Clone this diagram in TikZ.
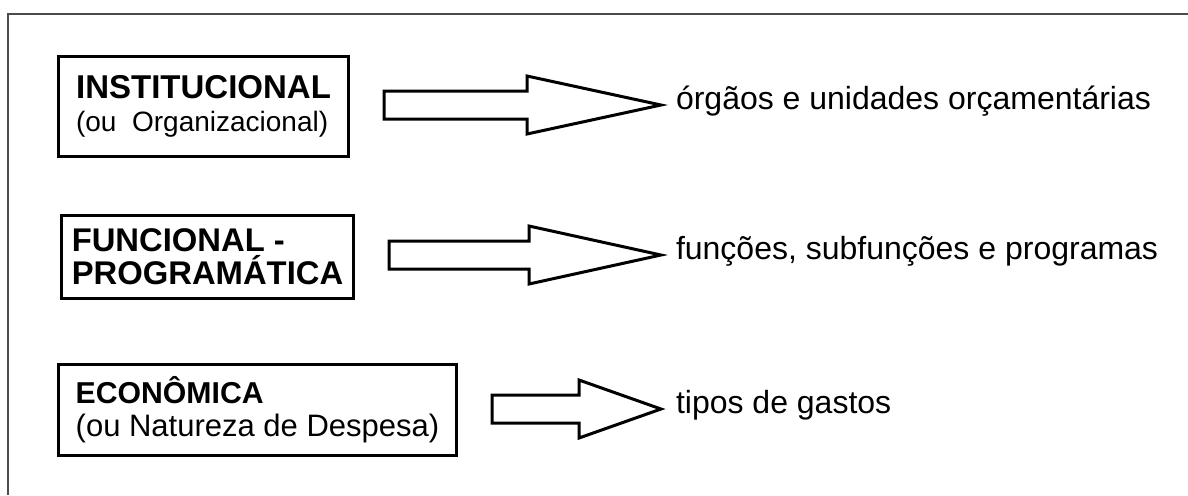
\documentclass[tikz,border=0pt]{standalone}
\usepackage{fontspec}
\setmainfont{Liberation Sans}
\usetikzlibrary{positioning,calc}

\begin{document}
\begin{tikzpicture}[x=0.5pt, y=-0.5pt,
    font=\fontsize{16}{16.5}\selectfont,
    catbox/.style={draw, rectangle, line width=1.5pt, align=left, inner sep=0pt, outer sep=0.75pt},
    lbl/.style={anchor=west, inner xsep=7.5pt, inner ysep=0pt, outer sep=0pt, text height=0.7em, text depth=0.3em},
    blockarrow/.style={draw, line width=1.5pt}]
  \useasboundingbox (0,0) rectangle (1188,495);
  \draw[line width=1pt, black!70] (1188,14) -- (8,14) -- (8,495);

  \node (inst) [catbox, minimum width=145pt, minimum height=50pt] at (203.5,106.5)
    {\fontsize{16.5}{16.5}\selectfont\bfseries INSTITUCIONAL\\
     \fontsize{14}{16.5}\selectfont\mdseries (ou\ \ Organizacional)};
  \node (prog) [catbox, minimum width=146pt, minimum height=41.5pt, below=28pt of inst.south west, anchor=north west, xshift=1.5pt]
    {\fontsize{16.4}{16}\selectfont\bfseries FUNCIONAL -\\\fontsize{16.4}{16}\selectfont\bfseries PROGRAMÁTICA};
  \node (econ) [catbox, minimum width=199pt, minimum height=45.5pt, below=31.5pt of prog.south west, anchor=north west, xshift=-1.5pt]
    {\fontsize{15.1}{17}\selectfont\bfseries ECONÔMICA\\
     \fontsize{15.5}{17}\selectfont\mdseries (ou Natureza de Despesa)};

  \node (orgaos) [lbl] at (661,105) {órgãos e unidades orçamentárias};
  \node (funcoes) [lbl] at (661,255) {funções, subfunções e programas};
  \node (tipos) [lbl] at (661,409) {tipos de gastos};

  \foreach \src/\dst/\hl in {inst/orgaos/67pt, prog/funcoes/66pt, econ/tipos/41pt}
    \draw[blockarrow] let \p1=(\src.east), \p2=(\dst.west) in
      (\x1+17pt,\y2+7pt) -- (\x2-\hl,\y2+7pt) -- (\x2-\hl,\y2+14.5pt) -- (\x2,\y2)
      -- (\x2-\hl,\y2-14.5pt) -- (\x2-\hl,\y2-7pt) -- (\x1+17pt,\y2-7pt) -- cycle;
\end{tikzpicture}
\end{document}
